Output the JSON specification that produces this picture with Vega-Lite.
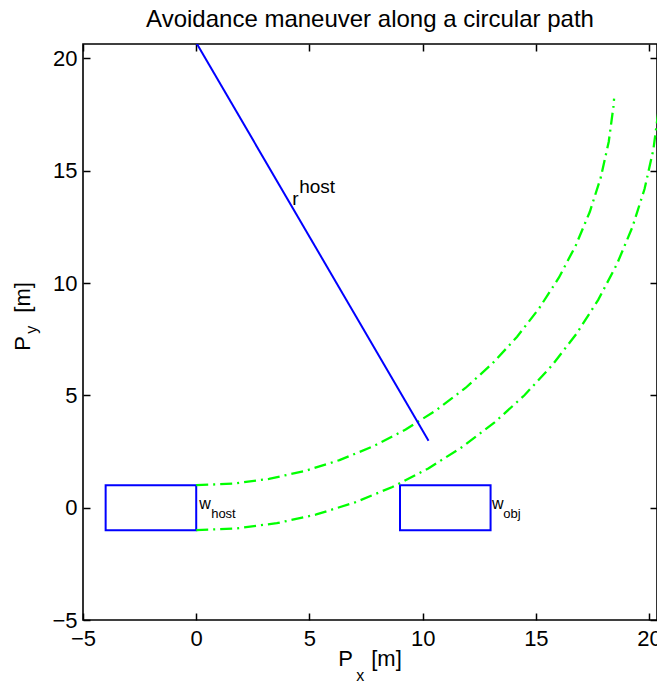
{
  "$schema": "https://vega.github.io/schema/vega-lite/v6.json",
  "width": 574,
  "height": 576,
  "autosize": "none",
  "padding": {"left": 83, "top": 44, "right": 0, "bottom": 67},
  "background": "white",
  "config": {
    "view": {"stroke": "black", "strokeWidth": 1.6},
    "font": "Liberation Sans",
    "axis": {
      "labelFont": "Liberation Sans",
      "labelFontSize": 22,
      "labelColor": "black",
      "labelFlush": false,
      "labelOverlap": false,
      "ticks": true,
      "tickColor": "#000000",
      "tickOpacity": 1,
      "tickWidth": 1.5,
      "tickSize": 7,
      "offset": -7,
      "domain": false,
      "grid": false,
      "zindex": 1,
      "title": null
    }
  },
  "title": {
    "text": "Avoidance maneuver along a circular path",
    "font": "Liberation Sans",
    "fontSize": 24,
    "fontWeight": "normal",
    "color": "black",
    "anchor": "middle",
    "offset": 11
  },
  "datasets": {
    "rects": [
      {"name": "host", "x": -4, "x2": 0, "y": -1, "y2": 1},
      {"name": "obj", "x": 9, "x2": 13, "y": -1, "y2": 1}
    ],
    "arcs": [
      {"arc": "inner", "i": 0, "x": 0, "y": 1.0},
      {"arc": "inner", "i": 1, "x": 1.612, "y": 1.07},
      {"arc": "inner", "i": 2, "x": 3.213, "y": 1.281},
      {"arc": "inner", "i": 3, "x": 4.788, "y": 1.63},
      {"arc": "inner", "i": 4, "x": 6.327, "y": 2.116},
      {"arc": "inner", "i": 5, "x": 7.818, "y": 2.733},
      {"arc": "inner", "i": 6, "x": 9.25, "y": 3.478},
      {"arc": "inner", "i": 7, "x": 10.611, "y": 4.346},
      {"arc": "inner", "i": 8, "x": 11.892, "y": 5.328},
      {"arc": "inner", "i": 9, "x": 13.081, "y": 6.418},
      {"arc": "inner", "i": 10, "x": 14.172, "y": 7.608},
      {"arc": "inner", "i": 11, "x": 15.154, "y": 8.889},
      {"arc": "inner", "i": 12, "x": 16.022, "y": 10.25},
      {"arc": "inner", "i": 13, "x": 16.767, "y": 11.682},
      {"arc": "inner", "i": 14, "x": 17.384, "y": 13.173},
      {"arc": "inner", "i": 15, "x": 17.87, "y": 14.712},
      {"arc": "inner", "i": 16, "x": 18.219, "y": 16.288},
      {"arc": "inner", "i": 17, "x": 18.43, "y": 17.888},
      {"arc": "inner", "i": 18, "x": 18.455, "y": 18.209},
      {"arc": "outer", "i": 0, "x": 0, "y": -1.0},
      {"arc": "outer", "i": 1, "x": 1.787, "y": -0.922},
      {"arc": "outer", "i": 2, "x": 3.56, "y": -0.689},
      {"arc": "outer", "i": 3, "x": 5.306, "y": -0.302},
      {"arc": "outer", "i": 4, "x": 7.011, "y": 0.236},
      {"arc": "outer", "i": 5, "x": 8.664, "y": 0.921},
      {"arc": "outer", "i": 6, "x": 10.25, "y": 1.746},
      {"arc": "outer", "i": 7, "x": 11.758, "y": 2.707},
      {"arc": "outer", "i": 8, "x": 13.177, "y": 3.796},
      {"arc": "outer", "i": 9, "x": 14.496, "y": 5.004},
      {"arc": "outer", "i": 10, "x": 15.704, "y": 6.323},
      {"arc": "outer", "i": 11, "x": 16.793, "y": 7.742},
      {"arc": "outer", "i": 12, "x": 17.754, "y": 9.25},
      {"arc": "outer", "i": 13, "x": 18.579, "y": 10.836},
      {"arc": "outer", "i": 14, "x": 19.264, "y": 12.489},
      {"arc": "outer", "i": 15, "x": 19.802, "y": 14.194},
      {"arc": "outer", "i": 16, "x": 20.189, "y": 15.94},
      {"arc": "outer", "i": 17, "x": 20.422, "y": 17.713},
      {"arc": "outer", "i": 18, "x": 20.45, "y": 18.07}
    ],
    "radius": [
      {"i": 0, "x": 0, "y": 20.7},
      {"i": 1, "x": 10.26, "y": 2.98}
    ],
    "labels": [
      {"t": "r", "x": 4.24, "y": 13.48, "kind": "big"},
      {"t": "host", "x": 4.55, "y": 14.02, "kind": "big"},
      {"t": "w", "x": 0.13, "y": -0.04, "kind": "main"},
      {"t": "host", "x": 0.66, "y": -0.45, "kind": "script"},
      {"t": "w", "x": 13.06, "y": -0.04, "kind": "main"},
      {"t": "obj", "x": 13.56, "y": -0.45, "kind": "script"}
    ],
    "xtitle": [
      {"t": "P", "x": 6.27, "y": -7.03, "kind": "main"},
      {"t": "x", "x": 7.07, "y": -7.7, "kind": "script"},
      {"t": "[m]", "x": 7.73, "y": -7.03, "kind": "main"}
    ],
    "ytitle": [
      {"t": "P", "x": -7.33, "y": 6.99, "kind": "main"},
      {"t": "y", "x": -7.02, "y": 7.74, "kind": "script"},
      {"t": "[m]", "x": -7.33, "y": 8.68, "kind": "main"}
    ]
  },
  "layer": [
    {
      "data": {"name": "rects"},
      "mark": {"type": "rect", "fill": null, "fillOpacity": 0, "stroke": "#0000ff", "strokeWidth": 2},
      "encoding": {
        "x": {"field": "x", "type": "quantitative", "scale": {"domain": [-5, 20.35], "nice": false, "zero": false},
              "axis": {"orient": "bottom", "values": [-5, 0, 5, 10, 15, 20], "labelPadding": 8}},
        "x2": {"field": "x2"},
        "y": {"field": "y", "type": "quantitative", "scale": {"domain": [-5, 20.64], "nice": false, "zero": false},
              "axis": {"orient": "left", "values": [-5, 0, 5, 10, 15, 20], "labelPadding": 6}},
        "y2": {"field": "y2"}
      }
    },
    {
      "data": {"name": "arcs"},
      "mark": {"type": "line", "clip": true, "color": "#00ff00", "strokeWidth": 2.3, "strokeDash": [12, 5, 2, 5]},
      "encoding": {
        "x": {"field": "x", "type": "quantitative", "scale": {"domain": [-5, 20.35], "nice": false, "zero": false},
              "axis": {"orient": "top", "values": [-5, 0, 5, 10, 15, 20], "labels": false}},
        "y": {"field": "y", "type": "quantitative", "scale": {"domain": [-5, 20.64], "nice": false, "zero": false},
              "axis": {"orient": "right", "values": [-5, 0, 5, 10, 15, 20], "labels": false}},
        "detail": {"field": "arc"},
        "order": {"field": "i"}
      }
    },
    {
      "data": {"name": "radius"},
      "mark": {"type": "line", "clip": true, "color": "#0000ff", "strokeWidth": 2},
      "encoding": {
        "x": {"field": "x", "type": "quantitative", "scale": {"domain": [-5, 20.35], "nice": false, "zero": false}, "axis": null},
        "y": {"field": "y", "type": "quantitative", "scale": {"domain": [-5, 20.64], "nice": false, "zero": false}, "axis": null},
        "order": {"field": "i"}
      }
    },
    {
      "data": {"name": "labels"},
      "transform": [{"filter": "datum.kind === 'big'"}],
      "mark": {"type": "text", "align": "left", "baseline": "alphabetic", "font": "Liberation Sans", "fontSize": 19, "color": "black"},
      "encoding": {
        "x": {"field": "x", "type": "quantitative", "scale": {"domain": [-5, 20.35], "nice": false, "zero": false}, "axis": null},
        "y": {"field": "y", "type": "quantitative", "scale": {"domain": [-5, 20.64], "nice": false, "zero": false}, "axis": null},
        "text": {"field": "t"}
      }
    },
    {
      "data": {"name": "labels"},
      "transform": [{"filter": "datum.kind === 'main'"}],
      "mark": {"type": "text", "align": "left", "baseline": "alphabetic", "font": "Liberation Sans", "fontSize": 16, "color": "black"},
      "encoding": {
        "x": {"field": "x", "type": "quantitative", "scale": {"domain": [-5, 20.35], "nice": false, "zero": false}, "axis": null},
        "y": {"field": "y", "type": "quantitative", "scale": {"domain": [-5, 20.64], "nice": false, "zero": false}, "axis": null},
        "text": {"field": "t"}
      }
    },
    {
      "data": {"name": "labels"},
      "transform": [{"filter": "datum.kind === 'script'"}],
      "mark": {"type": "text", "align": "left", "baseline": "alphabetic", "font": "Liberation Sans", "fontSize": 13, "color": "black"},
      "encoding": {
        "x": {"field": "x", "type": "quantitative", "scale": {"domain": [-5, 20.35], "nice": false, "zero": false}, "axis": null},
        "y": {"field": "y", "type": "quantitative", "scale": {"domain": [-5, 20.64], "nice": false, "zero": false}, "axis": null},
        "text": {"field": "t"}
      }
    },
    {
      "data": {"name": "xtitle"},
      "transform": [{"filter": "datum.kind === 'main'"}],
      "mark": {"type": "text", "align": "left", "baseline": "alphabetic", "font": "Liberation Sans", "fontSize": 22, "color": "black"},
      "encoding": {
        "x": {"field": "x", "type": "quantitative", "scale": {"domain": [-5, 20.35], "nice": false, "zero": false}, "axis": null},
        "y": {"field": "y", "type": "quantitative", "scale": {"domain": [-5, 20.64], "nice": false, "zero": false}, "axis": null},
        "text": {"field": "t"}
      }
    },
    {
      "data": {"name": "xtitle"},
      "transform": [{"filter": "datum.kind === 'script'"}],
      "mark": {"type": "text", "align": "left", "baseline": "alphabetic", "font": "Liberation Sans", "fontSize": 16, "color": "black"},
      "encoding": {
        "x": {"field": "x", "type": "quantitative", "scale": {"domain": [-5, 20.35], "nice": false, "zero": false}, "axis": null},
        "y": {"field": "y", "type": "quantitative", "scale": {"domain": [-5, 20.64], "nice": false, "zero": false}, "axis": null},
        "text": {"field": "t"}
      }
    },
    {
      "data": {"name": "ytitle"},
      "transform": [{"filter": "datum.kind === 'main'"}],
      "mark": {"type": "text", "align": "left", "baseline": "alphabetic", "angle": 270, "font": "Liberation Sans", "fontSize": 22, "color": "black"},
      "encoding": {
        "x": {"field": "x", "type": "quantitative", "scale": {"domain": [-5, 20.35], "nice": false, "zero": false}, "axis": null},
        "y": {"field": "y", "type": "quantitative", "scale": {"domain": [-5, 20.64], "nice": false, "zero": false}, "axis": null},
        "text": {"field": "t"}
      }
    },
    {
      "data": {"name": "ytitle"},
      "transform": [{"filter": "datum.kind === 'script'"}],
      "mark": {"type": "text", "align": "left", "baseline": "alphabetic", "angle": 270, "font": "Liberation Sans", "fontSize": 16, "color": "black"},
      "encoding": {
        "x": {"field": "x", "type": "quantitative", "scale": {"domain": [-5, 20.35], "nice": false, "zero": false}, "axis": null},
        "y": {"field": "y", "type": "quantitative", "scale": {"domain": [-5, 20.64], "nice": false, "zero": false}, "axis": null},
        "text": {"field": "t"}
      }
    }
  ],
  "resolve": {"axis": {"x": "independent", "y": "independent"}}
}
